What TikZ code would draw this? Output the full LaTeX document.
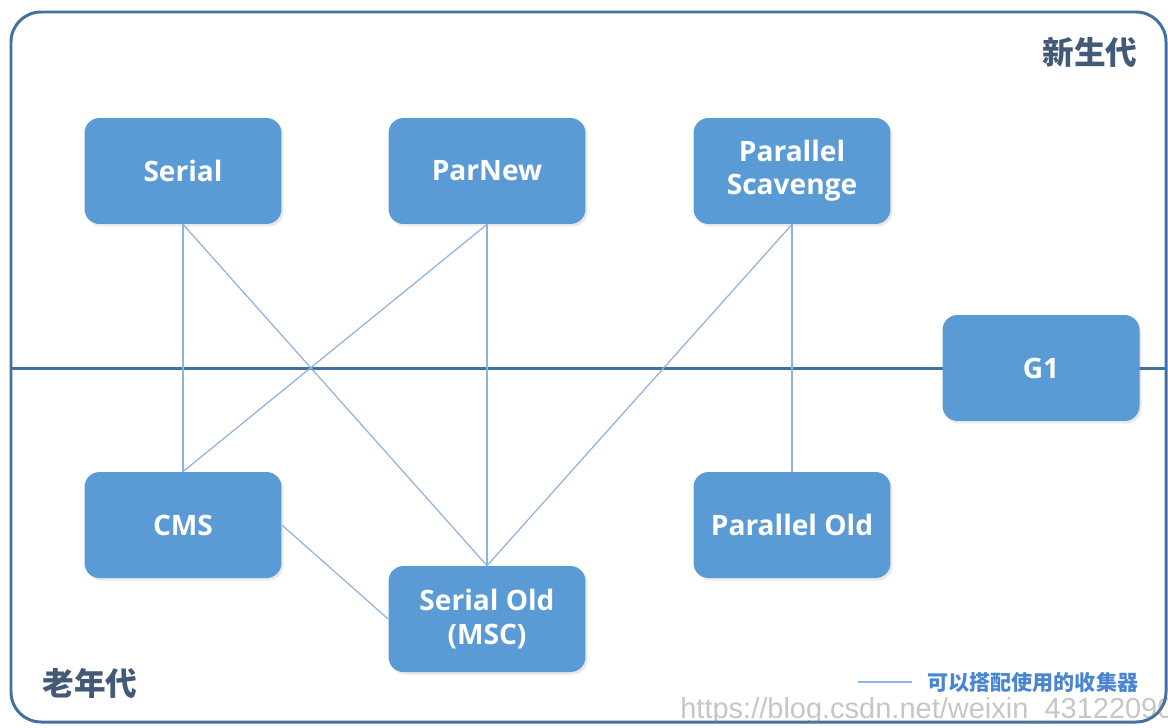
\documentclass[tikz,border=0pt]{standalone}
\usepackage{fontspec}
\setmainfont{Open Sans}
\newfontfamily\cjk{Noto Sans CJK SC}
\newfontfamily\wmfont{Liberation Sans}
\usetikzlibrary{shadows}
\definecolor{boxblue}{HTML}{5B9BD5}
\definecolor{framebl}{HTML}{41719C}
\definecolor{linkbl}{HTML}{8DB3E2}
\definecolor{headgray}{HTML}{425A78}
\definecolor{legendbl}{HTML}{4A86CF}

\begin{document}
\begin{tikzpicture}[x=0.02cm,y=-0.02cm,
    gc/.style={fill=boxblue, rounded corners=0.3cm, minimum width=3.94cm, minimum height=2.12cm,
      text=white, align=center, font=\fontsize{16}{19}\selectfont\bfseries,
      drop shadow={opacity=0.18, shadow xshift=0.04cm, shadow yshift=-0.05cm}},
    gen/.style={text=headgray, font=\cjk\fontsize{18}{20}\selectfont\bfseries},
    link/.style={linkbl, line width=0.7pt}]
  \useasboundingbox (0,0) rectangle (1168,727);
  % frame and border between the generations
  \draw[framebl, line width=1.7pt, rounded corners=0.6cm] (11,12) rectangle (1166,722);
  \draw[framebl, line width=1.7pt] (11,368) -- (1166,368);
  \node[gen] (young) at (1090,52) {新生代};
  \node[gen] (old) at (90,683) {老年代};
  % collectors
  \node[gc] (serial) at (183,171) {Serial};
  \node[gc] (parnew) at (487,171) {ParNew};
  \node[gc] (pscav) at (792,171) {Parallel\\Scavenge};
  \node[gc] (gone) at (1041,368) {G1};
  \node[gc] (cms) at (183,525) {CMS};
  \node[gc] (pold) at (792,525) {Parallel Old};
  \node[gc] (sold) at (487,619) {Serial Old\\(MSC)};
  % which ones go together
  \draw[link] (serial.south) -- (cms.north);
  \draw[link] (serial.south) -- (sold.north);
  \draw[link] (parnew.south) -- (cms.north);
  \draw[link] (parnew.south) -- (sold.north);
  \draw[link] (pscav.south) -- (sold.north);
  \draw[link] (pscav.south) -- (pold.north);
  \draw[link] (cms.east) -- (sold.west);
  % legend
  \coordinate (lgA) at (858,682);
  \coordinate (lgB) at (912,682);
  \draw[link, line width=1pt] (lgA) -- (lgB);
  \node[anchor=west, text=legendbl, font=\cjk\fontsize{12}{14}\selectfont\bfseries, inner sep=0pt] (legend) at (927,682) {可以搭配使用的收集器};
  \node[anchor=west, text=gray, opacity=0.45, font=\wmfont\fontsize{16.5}{18}\selectfont, inner sep=0pt] (wmark) at (680,711) {https://blog.csdn.net/weixin\_43122090};
\end{tikzpicture}
\end{document}
